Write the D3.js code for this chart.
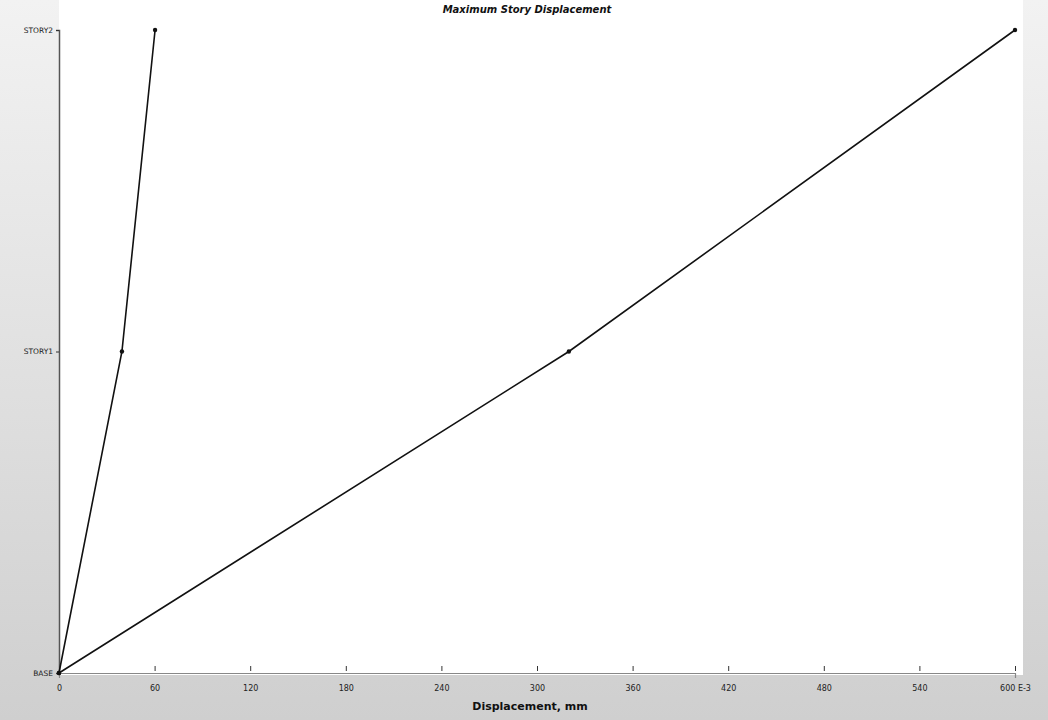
<!DOCTYPE html>
<html><head><meta charset="utf-8">
<script src="https://cdn.jsdelivr.net/npm/d3@7/dist/d3.min.js"></script>
<style>body{margin:0;background:#fff;}svg{display:block;}</style>
</head><body><svg id="c" width="1048" height="720"></svg>
<script>
const stories = ["BASE", "STORY1", "STORY2"];
const seriesA = [0, 39.5, 60.3];
const seriesB = [0, 320, 600];
const xTicks = [0, 60, 120, 180, 240, 300, 360, 420, 480, 540, 600];
const xTickLabels = ["0", "60", "120", "180", "240", "300", "360", "420", "480", "540", "600 E-3"];
const title = "Maximum Story Displacement";
const xTitle = "Displacement, mm";

const svg = d3.select("#c");
const W = 1048, H = 720;
const m = {l: 59, r: 33, t: 30, b: 47};

const defs = svg.append("defs");
const g1 = defs.append("linearGradient").attr("id","bg").attr("x1",0).attr("y1",0).attr("x2",0).attr("y2",1);
g1.append("stop").attr("offset","0%").attr("stop-color","#f2f2f2");
g1.append("stop").attr("offset","35%").attr("stop-color","#e6e6e6");
g1.append("stop").attr("offset","100%").attr("stop-color","#cfcfcf");
svg.append("rect").attr("width",W).attr("height",H).attr("fill","url(#bg)");
svg.append("rect").attr("x",m.l).attr("y",0).attr("width",W-m.l-m.r+8).attr("height",H-m.b+2).attr("fill","#fff");

const x = d3.scaleLinear().domain([0,600]).range([m.l, W-m.r]);
const y = d3.scalePoint().domain(stories).range([H-m.b, m.t]);

const xa = svg.append("g").attr("transform",`translate(0,${H-m.b})`)
  .call(d3.axisBottom(x).tickValues(xTicks).tickSize(5).tickFormat((d,i)=>xTickLabels[i]));
xa.selectAll("text").attr("font-family","DejaVu Sans").attr("font-size",8).attr("fill","#222").attr("dy","1.2em");
xa.selectAll("line").attr("stroke","#333").attr("transform","translate(0,-7)");
xa.select(".domain").attr("stroke","#888").attr("stroke-width",1.2);

const ya = svg.append("g").attr("transform",`translate(${m.l},0)`)
  .call(d3.axisLeft(y).tickSize(3));
ya.selectAll("text").attr("font-family","DejaVu Sans").attr("font-size",7.5).attr("fill","#222");
ya.select(".domain").attr("stroke","#555").attr("stroke-width",1.5);
ya.selectAll("line").attr("stroke","#333");

const line = d3.line().x(d=>x(d.v)).y(d=>y(d.s));
[seriesA, seriesB].forEach(s=>{
  const pts = s.map((v,i)=>({v, s: stories[i]}));
  svg.append("path").datum(pts).attr("d",line).attr("fill","none").attr("stroke","#111").attr("stroke-width",1.6);
  svg.selectAll(null).data(pts).enter().append("circle")
    .attr("cx",d=>x(d.v)).attr("cy",d=>y(d.s)).attr("r",2.2).attr("fill","#111");
});

svg.append("text").attr("x",527).attr("y",13).attr("text-anchor","middle")
  .attr("font-family","DejaVu Sans").attr("font-size",10).attr("font-weight","bold").attr("font-style","italic")
  .attr("fill","#111").text(title);
svg.append("text").attr("x",530).attr("y",710).attr("text-anchor","middle")
  .attr("font-family","DejaVu Sans").attr("font-size",11).attr("font-weight","bold")
  .attr("fill","#111").text(xTitle);
</script></body></html>
